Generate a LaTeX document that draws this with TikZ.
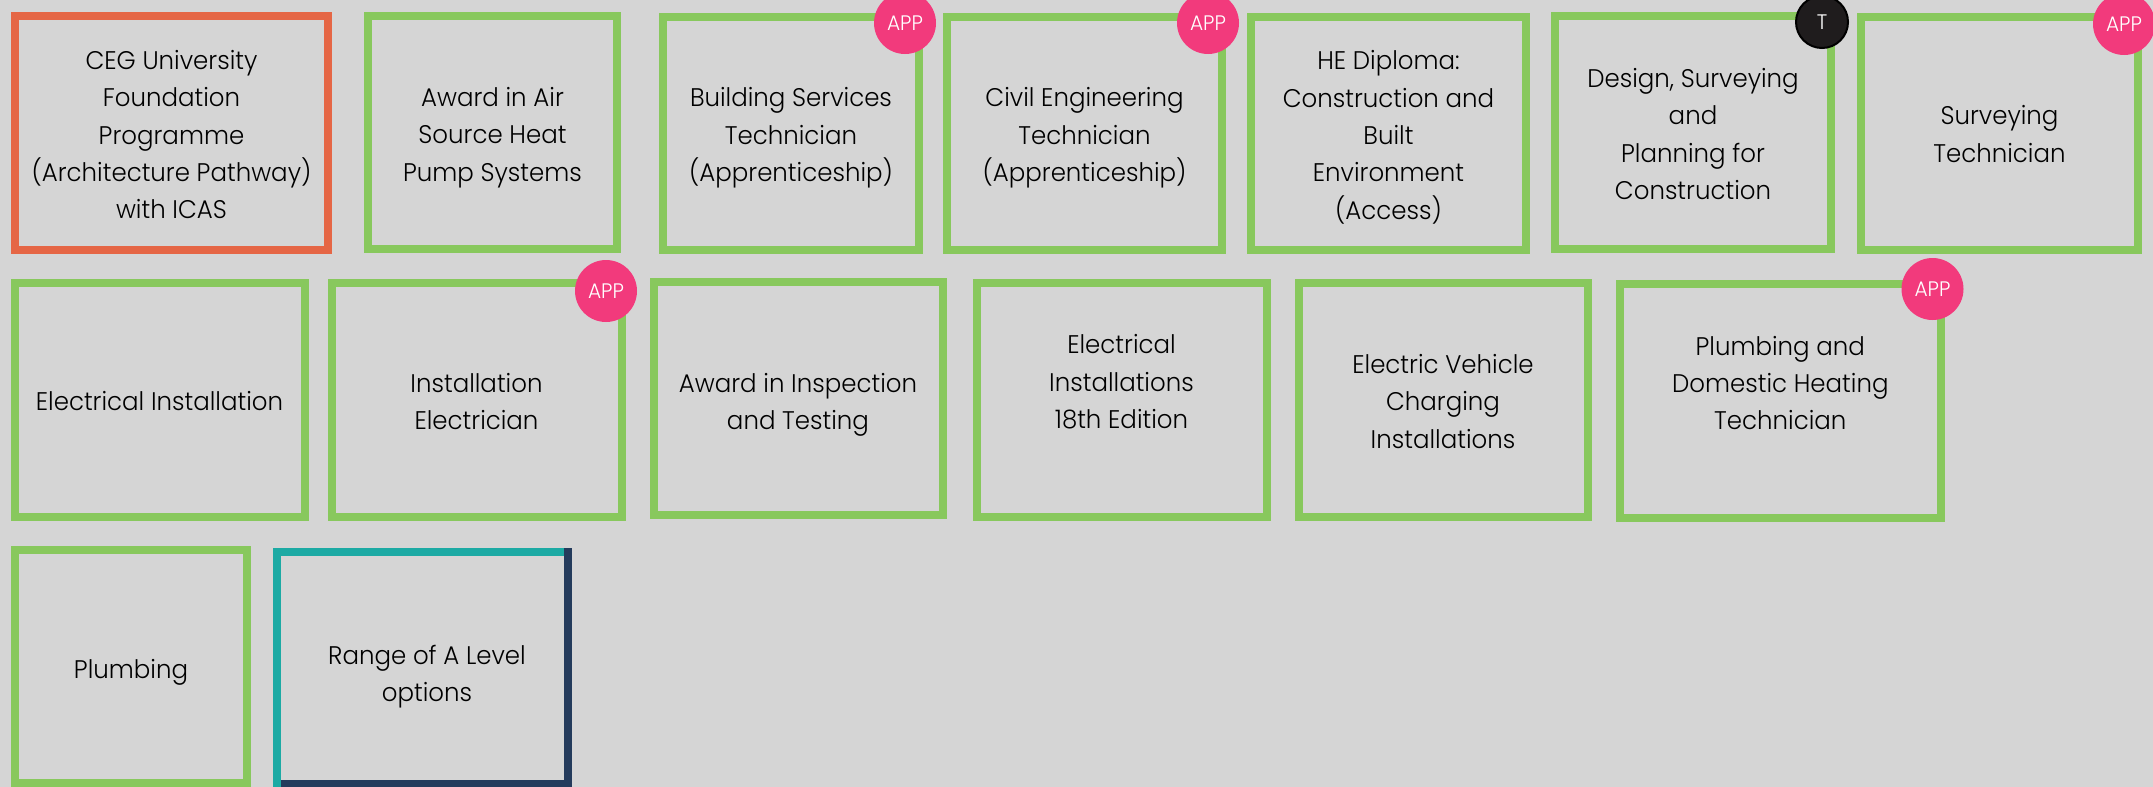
\documentclass[tikz,border=0pt]{standalone}
\usepackage{fontspec}
\setmainfont[FakeStretch=0.96]{Poppins Light}
\usetikzlibrary{positioning}
\definecolor{pagegrey}{HTML}{D5D5D5}
\definecolor{coursegreen}{HTML}{88C85D}
\definecolor{courseorange}{HTML}{E56645}
\definecolor{courseteal}{HTML}{1CAAA4}
\definecolor{coursenavy}{HTML}{243B5C}
\definecolor{apppink}{HTML}{F23A7C}
\definecolor{tdark}{HTML}{1F1C1D}

\begin{document}
\begin{tikzpicture}[x=1pt,y=-1pt,
        course/.style={rectangle, align=center, outer sep=0pt, inner sep=0pt, text=black, text depth=0pt,
            font=\fontsize{25.5}{37.3}\selectfont},
        green box/.style={course, draw=coursegreen, line width=8pt},
        orange box/.style={course, draw=courseorange, line width=8pt},
        app badge/.style={circle, fill=apppink, text=white, minimum size=62pt, inner sep=0pt,
            font=\fontsize{21}{24}\selectfont},
        t badge/.style={circle, fill=tdark, draw=black, line width=2pt, text=white, minimum size=52pt,
            inner sep=0pt, font=\fontsize{21}{24}\selectfont},
        edge/.style={line width=8pt, line cap=rect}]

\fill[pagegrey] (0,0) rectangle (2153,787);
\useasboundingbox (0,0) rectangle (2153,787);

% first row
\node[orange box, text height=171.4pt, minimum width=313pt, minimum height=234pt] (ceg) at (171.5,133) {CEG University\\Foundation\\Programme\\(Architecture Pathway)\\with ICAS};
\node[green box, text height=97pt, minimum width=249pt, minimum height=233pt] (air) at (492.5,132.5) {Award in Air\\Source Heat\\Pump Systems};
\node[green box, text height=96pt, minimum width=256pt, minimum height=233pt] (building) at (791,133.5) {Building Services\\Technician\\(Apprenticeship)};
\node[green box, text height=96pt, minimum width=275pt, minimum height=233pt] (civil) at (1084.5,133.5) {Civil Engineering\\Technician\\(Apprenticeship)};
\node[green box, text height=171pt, minimum width=275pt, minimum height=233pt] (hed) at (1388.5,133.5) {HE Diploma:\\Construction and\\Built\\Environment\\(Access)};
\node[green box, text height=134pt, minimum width=276pt, minimum height=233pt] (design) at (1693,132.5) {Design, Surveying\\and\\Planning for\\Construction};
\node[green box, text height=58pt, minimum width=277pt, minimum height=233pt] (surveying) at (1999.5,133) {Surveying\\Technician};

% second row
\node[green box, text height=20pt, minimum width=290pt, minimum height=234pt] (elec) at (159.5,400) {Electrical Installation};
\node[green box, text height=59pt, minimum width=290pt, minimum height=234pt] (install) at (476.5,400) {Installation\\Electrician};
\node[green box, text height=62pt, minimum width=289pt, minimum height=233pt] (inspect) at (798,398.5) {Award in Inspection\\and Testing};
\node[green box, text height=57pt, minimum width=290pt, minimum height=234pt] (edition) at (1121.5,400) {Electrical\\Installations\\18th Edition};
\node[green box, text height=96pt, minimum width=289pt, minimum height=234pt] (vehicle) at (1443,400) {Electric Vehicle\\Charging\\Installations};
\node[green box, text height=58pt, minimum width=321pt, minimum height=234pt] (heating) at (1780.3,400.8) {Plumbing and\\Domestic Heating\\Technician};

% third row
\node[green box, text height=24pt, minimum width=232pt, minimum height=233pt] (plumbing) at (131,666.5) {Plumbing};
\node[course, text height=66.6pt, minimum width=291pt, minimum height=232pt] (levels) at (422.5,668) {\hspace*{9pt}Range of A Level\\\hspace*{9pt}options};

\draw[edge, courseteal] (levels.north west) -- (levels.north east);
\draw[edge, coursenavy] (levels.north east) -- (levels.south east) -- (levels.south west);
\draw[edge, courseteal] (levels.north west) -- (levels.south west);

% badges
\node[app badge] (appbuilding) at (905,23) {APP};
\node[app badge] (appcivil) at (1208,23) {APP};
\node[t badge] (tdesign) at (1822,22) {T};
\node[app badge] (appsurveying) at (2124,24) {APP};
\node[app badge] (appinstall) at (606,291) {APP};
\node[app badge] (appheating) at (1932.5,289) {APP};

\end{tikzpicture}
\end{document}
